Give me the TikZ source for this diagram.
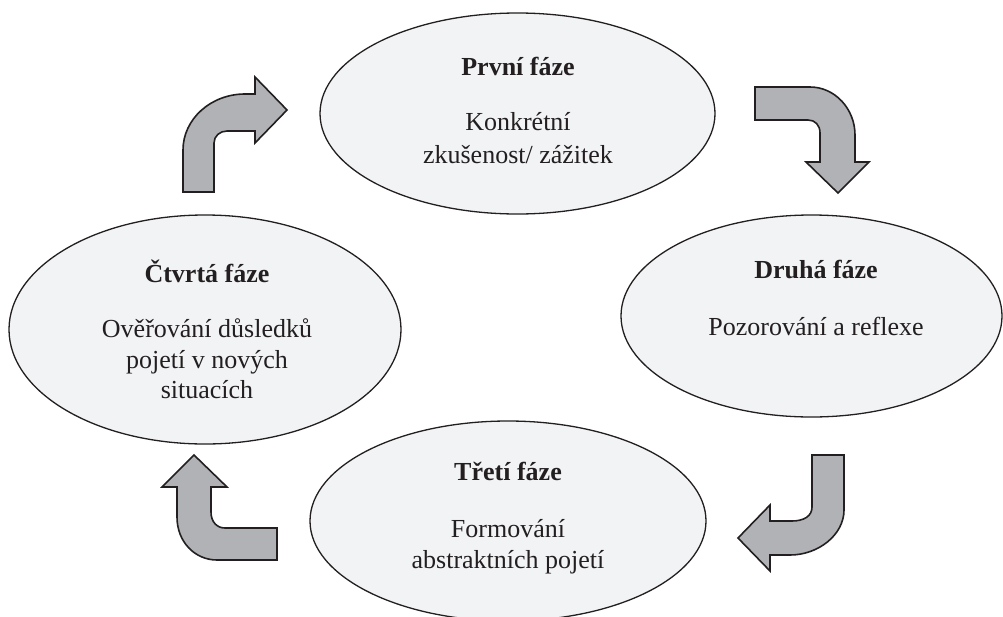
\documentclass[tikz,border=0pt]{standalone}
\usepackage{fontspec}
\setmainfont{Liberation Serif}
\usetikzlibrary{shapes.geometric}
\definecolor{ink}{RGB}{35,31,32}
\definecolor{ellfill}{RGB}{242,243,245}
\definecolor{arrfill}{RGB}{177,178,182}
\tikzset{
  phase/.style={ellipse, draw=ink, fill=ellfill, line width=1.3pt, inner sep=0pt},
  title/.style={anchor=base, text=ink, font=\fontsize{26}{30}\selectfont\bfseries, inner sep=0pt},
  body/.style={anchor=base, text=ink, font=\fontsize{26}{30}\selectfont, inner sep=0pt},
  blockarrow/.style={draw=ink, fill=arrfill, line width=1.6pt, line join=miter}
}
\begin{document}
\begin{tikzpicture}[x=1pt, y=-1pt]
\useasboundingbox (0,0) rectangle (1003,616);
\begin{scope}
\clip (0,0) rectangle (1003,616);
% ellipses
\node[phase, minimum width=395pt, minimum height=201pt] (e1) at (517.5,113.5) {};
\node[phase, minimum width=381pt, minimum height=202pt] (e2) at (811.5,316) {};
\node[phase, minimum width=396pt, minimum height=200pt] (e3) at (508,521) {};
\node[phase, minimum width=392pt, minimum height=229pt] (e4) at (205,329.5) {};
\end{scope}
% texts
\node[title] (t1) at (518,75) {První fáze};
\node[body] (b1a) at (518,130) {Konkrétní};
\node[body] (b1b) at (518,163) {zkušenost/ zážitek};
\node[title] (t2) at (816,278) {Druhá fáze};
\node[body] (b2a) at (816,335) {Pozorování a reflexe};
\node[title] (t3) at (508,480) {Třetí fáze};
\node[body] (b3a) at (508,537) {Formování};
\node[body] (b3b) at (508,568) {abstraktních pojetí};
\node[title] (t4) at (207,282) {Čtvrtá fáze};
\node[body] (b4a) at (207,337) {Ověřování důsledků};
\node[body] (b4b) at (207,368) {pojetí v nových};
\node[body] (b4c) at (207,398) {situacích};
% arrow 1 (up then right)
\draw[blockarrow] (183,192) -- (183,150) .. controls (183,119) and (211,94) .. (245,94)
  -- (255,94) -- (255,77) -- (287,110) -- (255,143) -- (255,131) -- (227,131)
  .. controls (220,131) and (214,136) .. (214,143) -- (214,192) -- cycle;
% arrow 2 (right then down)
\draw[blockarrow] (755,87) -- (810,87) .. controls (835,87) and (855,109) .. (855,135)
  -- (855,162) -- (869,162) -- (838,193) -- (806,162) -- (820,162) -- (820,133)
  .. controls (820,125) and (815,120) .. (808,120) -- (755,120) -- cycle;
% arrow 3 (down then left)
\draw[blockarrow] (812,455) -- (844,455) -- (844,510) .. controls (844,535) and (818,555) .. (790,555)
  -- (770,555) -- (770,571) -- (738,538) -- (770,505) -- (770,521) -- (792,521)
  .. controls (804,521) and (812,516) .. (812,507) -- cycle;
% arrow 4 (left then up)
\draw[blockarrow] (277,528) -- (277,560) -- (217,560) .. controls (195,560) and (177,542) .. (177,517)
  -- (177,487) -- (162,487) -- (194,455) -- (227,487) -- (211,487) -- (211,512)
  .. controls (211,522) and (217,528) .. (225,528) -- cycle;
\end{tikzpicture}
\end{document}
